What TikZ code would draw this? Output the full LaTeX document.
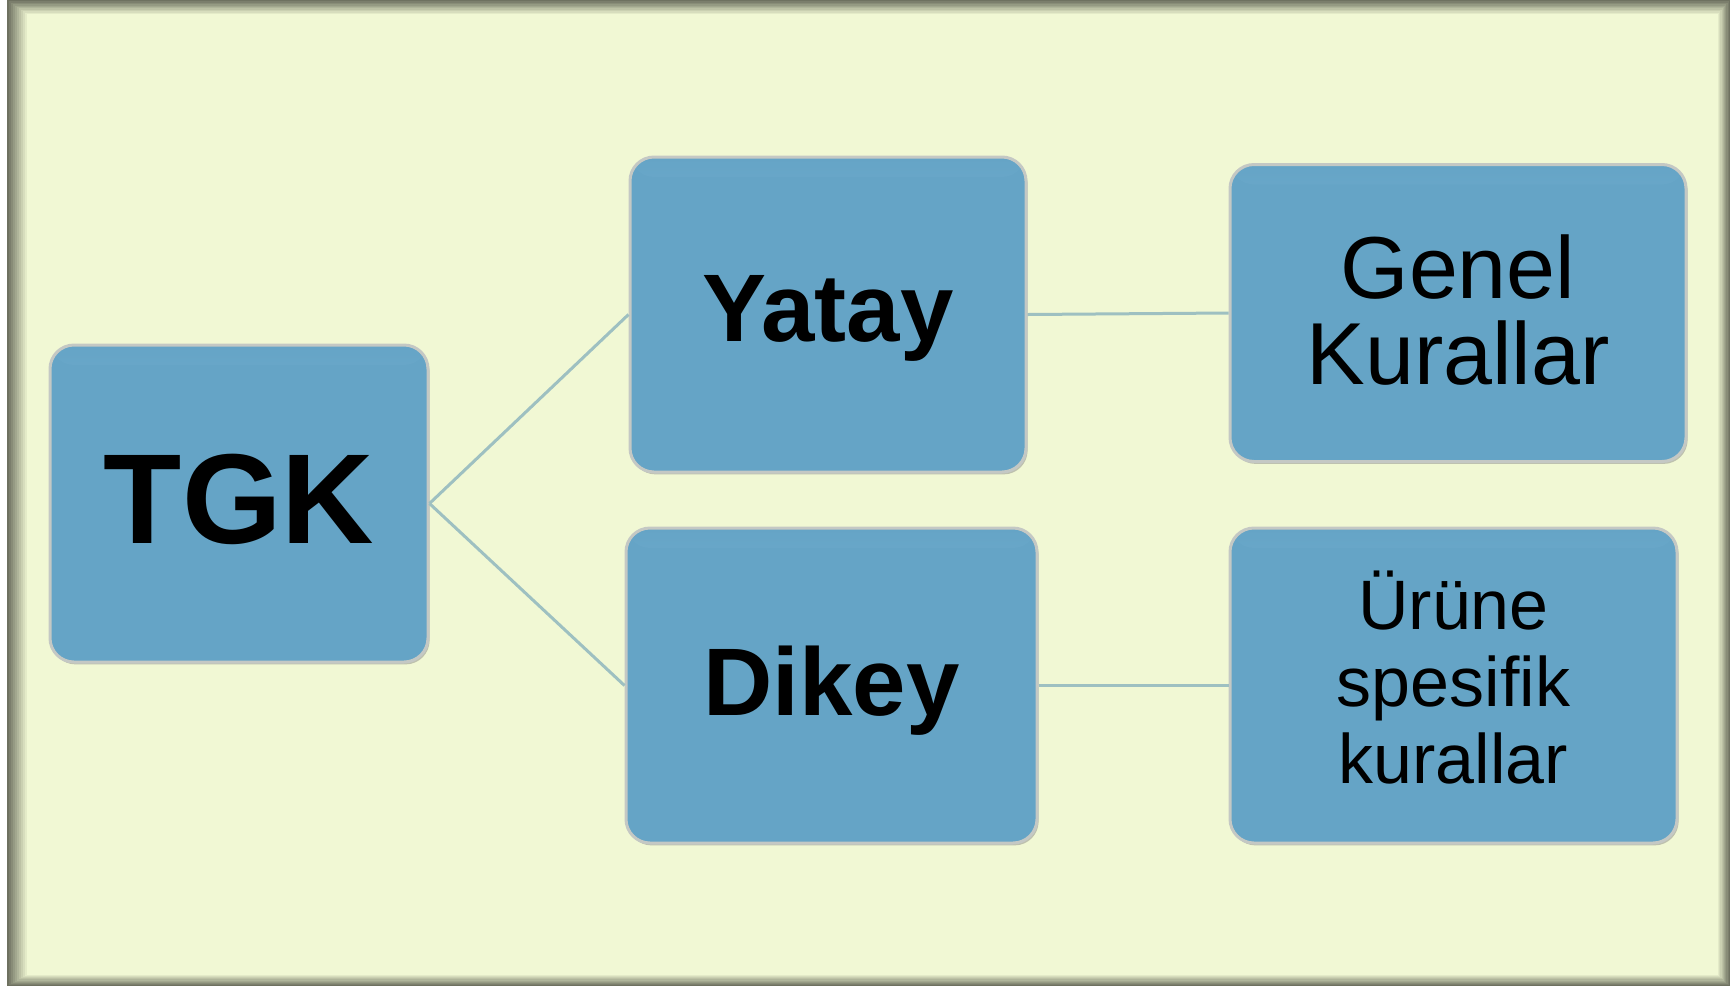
\documentclass[tikz,border=0pt]{standalone}
\usepackage{fontspec}
\setmainfont{Liberation Sans}
\usetikzlibrary{shadows}
\definecolor{bgyellow}{HTML}{F1F8D4}
\definecolor{framegray}{HTML}{6E7160}
\definecolor{boxblue}{HTML}{65A4C6}
\definecolor{boxtop}{HTML}{94CBE8}
\definecolor{boxedge}{HTML}{C4C8C4}
\definecolor{linkteal}{HTML}{9EC0C1}
\begin{document}
\begin{tikzpicture}[x=0.5pt,y=-0.5pt,
    box/.style={rectangle, rounded corners=12pt, fill=boxblue, draw=boxedge,
      line width=1.5pt, inner sep=0pt, align=center, text=black,
      drop shadow={shadow xshift=0.8pt, shadow yshift=-1.2pt, opacity=0.45},
      % y axis is flipped, so the light colour goes to "bottom color"
      path picture={\shade[top color=boxblue, bottom color=boxtop]
        (path picture bounding box.north west) rectangle
        ([yshift=-10pt]path picture bounding box.north east);}},
    link/.style={draw=linkteal, line width=1.5pt}]
	\useasboundingbox (0,0) rectangle (1730,986);
	% frame
	\fill[white] (0,0) rectangle (1730,986);
	\fill[framegray] (7,0) rectangle (1730,986);
	\foreach \i in {1,...,10}{
		\pgfmathsetmacro{\pct}{\i*10}
		\fill[bgyellow!\pct!framegray] (7+2*\i,1.4*\i) rectangle (1730-1.2*\i,986-1.1*\i);
	}
	% boxes
	\node[box, minimum width=189pt, minimum height=158.5pt, text depth=4.4pt,
		font=\fontsize{64}{70}\selectfont\bfseries] (tgk) at (239,503.5) {TGK};
	\node[box, minimum width=198pt, minimum height=157.5pt, text depth=6pt,
		font=\fontsize{48}{54}\selectfont\bfseries] (yatay) at (828,314.5) {Yatay};
	\node[box, minimum width=205.5pt, minimum height=157.5pt, text depth=4.5pt,
		font=\fontsize{48}{54}\selectfont\bfseries] (dikey) at (831.5,685.5) {Dikey};
	\node[box, minimum width=228pt, minimum height=148.5pt, text depth=3.3pt,
		font=\fontsize{44}{43}\selectfont] (genel) at (1458,313) {Genel\\Kurallar};
	\node[box, minimum width=223.5pt, minimum height=157.5pt, text depth=8pt,
		font=\fontsize{35}{38.5}\selectfont] (urune) at (1453.5,685.5) {Ürüne\\spesifik\\kurallar};
	% connectors
	\draw[link] (tgk.east) -- (yatay.west);
	\draw[link] (tgk.east) -- (dikey.west);
	\draw[link] (yatay.east) -- (genel.west);
	\draw[link] (dikey.east) -- (urune.west);
\end{tikzpicture}
\end{document}
